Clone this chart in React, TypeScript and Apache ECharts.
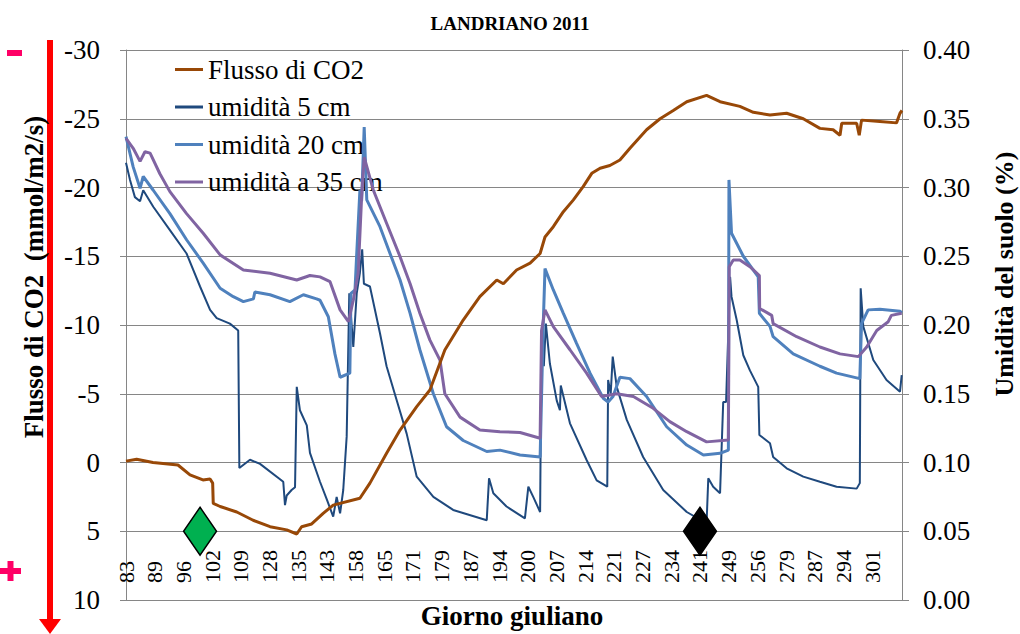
import React, { useEffect, useRef } from 'react';
import * as echarts from 'echarts';

// Tick labels of the category-like day axis (Julian day), one per unit of x
const dayLabels = ['83', '89', '96', '102', '109', '128', '135', '143', '158', '165', '171', '179', '187', '194', '200', '207', '214', '221', '227', '234', '241', '249', '256', '279', '287', '294', '301'];

const seriesNames = ['Flusso di CO2', 'umidità 5 cm', 'umidità 20 cm', 'umidità a 35 cm'];

// [x position in label units, CO2 flux (mmol/m2/s)]
const fluxCO2 = [
  [0.0, -0.1], [0.37, -0.23], [0.94, 0.0], [1.81, 0.18], [2.23, 0.9], [2.68, 1.27], [2.93, 1.2], [3.02, 1.5],
  [3.04, 2.97], [3.28, 3.2], [3.86, 3.6], [4.43, 4.2], [5.02, 4.67], [5.6, 4.9], [5.95, 5.2], [6.12, 4.67],
  [6.47, 4.47], [6.87, 3.7], [7.22, 3.1], [8.15, 2.6], [8.5, 1.5], [9.08, -0.67], [9.55, -2.36], [10.13, -4.06],
  [10.59, -5.27], [11.11, -8.18], [11.75, -10.36], [12.33, -12.06], [12.92, -13.27], [13.15, -13.0], [13.61, -14.0],
  [14.08, -14.5], [14.43, -15.2], [14.6, -16.4], [14.89, -17.15], [15.24, -18.24], [15.59, -19.1], [15.93, -20.06],
  [16.23, -21.03], [16.52, -21.4], [16.86, -21.6], [17.21, -22.0], [17.56, -22.85], [18.14, -24.2], [18.61, -25.0],
  [19.07, -25.6], [19.54, -26.24], [20.23, -26.7], [20.7, -26.24], [21.39, -25.9], [21.86, -25.47], [22.44, -25.27],
  [23.02, -25.4], [23.6, -25.0], [24.18, -24.3], [24.64, -24.2], [24.88, -23.8], [24.94, -24.67], [25.46, -24.67],
  [25.55, -23.8], [25.63, -24.9], [26.27, -24.8], [26.85, -24.7], [26.97, -25.4], [27.04, -25.6],
];

// [x, soil moisture] at 5 cm
const moisture5 = [
  [0.0, 0.318], [0.14, 0.3055], [0.31, 0.293], [0.49, 0.29], [0.6, 0.298], [0.95, 0.286], [1.53, 0.269], [2.11, 0.252],
  [2.58, 0.228], [2.93, 0.211], [3.16, 0.205], [3.62, 0.201], [3.91, 0.196], [3.95, 0.096], [4.32, 0.102], [4.67, 0.099],
  [5.48, 0.086], [5.54, 0.069], [5.6, 0.076], [5.77, 0.08], [5.89, 0.082], [5.95, 0.155], [6.06, 0.138], [6.3, 0.127],
  [6.41, 0.107], [6.76, 0.086], [7.0, 0.073], [7.22, 0.0606], [7.34, 0.075], [7.46, 0.063], [7.57, 0.08], [7.69, 0.119],
  [7.78, 0.223], [7.92, 0.184], [8.04, 0.223], [8.15, 0.238], [8.23, 0.255], [8.29, 0.23], [8.5, 0.228], [8.85, 0.194],
  [9.08, 0.17], [9.43, 0.1455], [9.78, 0.121], [10.13, 0.0897], [10.71, 0.075], [11.4, 0.0655], [12.57, 0.058],
  [12.65, 0.0885], [12.8, 0.0776], [13.26, 0.068], [13.9, 0.0594], [14.02, 0.0824], [14.19, 0.075], [14.43, 0.064],
  [14.48, 0.196], [14.56, 0.17], [14.63, 0.201], [14.77, 0.172], [15.01, 0.145], [15.12, 0.138], [15.15, 0.156],
  [15.47, 0.1285], [16.05, 0.1018], [16.4, 0.087], [16.77, 0.0824], [16.8, 0.16], [16.89, 0.15], [16.96, 0.177],
  [17.1, 0.155], [17.45, 0.131], [18.02, 0.104], [18.72, 0.08], [19.54, 0.064], [20.23, 0.0558], [20.29, 0.0885],
  [20.46, 0.0824], [20.7, 0.0776], [20.81, 0.144], [20.91, 0.144], [21.05, 0.235], [21.1, 0.2206], [21.28, 0.2036],
  [21.51, 0.178], [21.74, 0.167], [22.03, 0.155], [22.07, 0.12], [22.44, 0.114], [22.55, 0.104], [23.02, 0.0958],
  [23.6, 0.0897], [24.18, 0.086], [24.76, 0.0824], [25.46, 0.081], [25.57, 0.085], [25.6, 0.2267], [25.69, 0.199],
  [26.04, 0.1745], [26.5, 0.16], [26.97, 0.1515], [27.03, 0.1636],
];

// [x, soil moisture] at 20 cm
const moisture20 = [
  [0.0, 0.337], [0.25, 0.315], [0.49, 0.2994], [0.6, 0.308], [0.95, 0.298], [1.53, 0.281], [2.11, 0.262], [2.69, 0.245],
  [3.28, 0.2267], [3.74, 0.2206], [4.09, 0.217], [4.44, 0.219], [4.49, 0.224], [5.02, 0.222], [5.71, 0.217], [6.18, 0.222],
  [6.64, 0.219], [6.76, 0.218], [7.05, 0.206], [7.11, 0.199], [7.28, 0.179], [7.46, 0.162], [7.8, 0.165], [7.84, 0.223],
  [7.98, 0.2255], [8.04, 0.252], [8.15, 0.298], [8.21, 0.29], [8.3, 0.344], [8.39, 0.291], [8.85, 0.2715], [9.2, 0.252],
  [9.55, 0.2327], [9.9, 0.2085], [10.24, 0.182], [10.71, 0.15], [11.17, 0.126], [11.75, 0.116], [12.57, 0.108],
  [13.03, 0.109], [13.73, 0.1055], [14.43, 0.104], [14.54, 0.201], [14.6, 0.241], [14.89, 0.2255], [15.24, 0.2085],
  [15.7, 0.1867], [16.17, 0.165], [16.63, 0.1467], [16.8, 0.144], [16.97, 0.148], [17.21, 0.162], [17.56, 0.161],
  [18.14, 0.148], [18.84, 0.126], [19.54, 0.1127], [20.12, 0.1055], [20.7, 0.1067], [20.99, 0.109], [21.01, 0.3055],
  [21.1, 0.2667], [21.51, 0.25], [22.03, 0.235], [22.07, 0.2085], [22.44, 0.199], [22.55, 0.1915], [23.25, 0.179],
  [24.18, 0.17], [24.76, 0.165], [25.57, 0.161], [25.63, 0.201], [25.86, 0.211], [26.27, 0.2114], [26.97, 0.21],
  [27.04, 0.209],
];

// [x, soil moisture] at 35 cm
const moisture35 = [
  [0.0, 0.3358], [0.25, 0.3285], [0.49, 0.319], [0.66, 0.326], [0.84, 0.325], [1.18, 0.31], [1.53, 0.297], [2.11, 0.281],
  [2.69, 0.2667], [3.28, 0.251], [4.09, 0.24], [5.02, 0.2376], [5.95, 0.2327], [6.41, 0.236], [6.76, 0.235], [7.11, 0.2315],
  [7.46, 0.211], [7.75, 0.2025], [7.92, 0.218], [8.09, 0.2376], [8.21, 0.293], [8.3, 0.322], [8.62, 0.298], [9.08, 0.274],
  [9.55, 0.2497], [9.9, 0.23], [10.24, 0.2085], [10.59, 0.189], [10.94, 0.1745], [11.11, 0.15], [11.64, 0.133],
  [12.33, 0.1236], [13.03, 0.1224], [13.73, 0.1218], [14.43, 0.1176], [14.48, 0.196], [14.6, 0.211], [14.89, 0.1988],
  [15.47, 0.182], [16.05, 0.165], [16.57, 0.148], [17.1, 0.15], [17.68, 0.148], [18.37, 0.1394], [18.95, 0.1297],
  [19.54, 0.1224], [20.23, 0.115], [20.99, 0.1164], [21.02, 0.2424], [21.16, 0.2473], [21.39, 0.2473], [21.74, 0.2424],
  [22.07, 0.236], [22.08, 0.212], [22.5, 0.207], [22.55, 0.201], [23.37, 0.1915], [24.18, 0.184], [24.88, 0.179],
  [25.52, 0.177], [25.81, 0.184], [26.16, 0.196], [26.56, 0.2024], [26.67, 0.207], [27.03, 0.2085],
];

// Event markers (x position, flux-axis value)
const eventMarkers = [
  { value: [2.58, 5], color: '#00B050' },
  { value: [20.0, 5], color: '#000000' },
];

const FONT = "'Liberation Serif', 'Times New Roman', serif";
const GRID_COLOR = '#868686';

export default function App() {
  const ref = useRef<HTMLDivElement>(null);

  useEffect(() => {
    if (!ref.current) return;
    const chart = echarts.init(ref.current, undefined, { renderer: 'svg' });
    const option: any = {
      animation: false,
      backgroundColor: '#ffffff',
      textStyle: { fontFamily: FONT },
      title: {
        text: 'LANDRIANO 2011',
        left: 'center',
        top: 9,
        textStyle: { fontFamily: FONT, fontWeight: 'bold', fontSize: 19, color: '#000' },
      },
      legend: {
        orient: 'vertical',
        left: 175,
        top: 56,
        padding: 0,
        itemWidth: 28,
        itemHeight: 3,
        itemGap: 10.5,
        icon: 'rect',
        data: seriesNames,
        textStyle: { fontFamily: FONT, fontSize: 27, lineHeight: 27, color: '#000' },
      },
      grid: { left: 126, right: 118, top: 50, bottom: 34 },
      xAxis: {
        type: 'value',
        min: 0,
        max: 27.04,
        interval: 1,
        axisLine: { show: true, onZero: false, lineStyle: { color: GRID_COLOR, width: 1 } },
        axisTick: { show: false },
        splitLine: { show: false },
        axisLabel: {
          inside: true,
          rotate: 90,
          margin: 17,
          fontSize: 22,
          fontFamily: FONT,
          color: '#000',
          showMaxLabel: false,
          formatter: (v: number) => {
            const i = Math.round(v);
            return Math.abs(v - i) < 0.001 && dayLabels[i] !== undefined ? dayLabels[i] : '';
          },
        },
      },
      yAxis: [
        {
          type: 'value',
          inverse: true,
          min: -30,
          max: 10,
          interval: 5,
          position: 'left',
          axisLine: { show: true, onZero: false, lineStyle: { color: GRID_COLOR } },
          axisTick: { show: true, length: 6, lineStyle: { color: GRID_COLOR } },
          splitLine: { show: true, lineStyle: { color: GRID_COLOR, width: 1 } },
          axisLabel: { margin: 26, fontSize: 27, fontFamily: FONT, color: '#000' },
        },
        {
          type: 'value',
          min: 0,
          max: 0.4,
          interval: 0.05,
          position: 'right',
          axisLine: { show: true, onZero: false, lineStyle: { color: GRID_COLOR } },
          axisTick: { show: true, length: 7, lineStyle: { color: GRID_COLOR } },
          splitLine: { show: false },
          axisLabel: {
            margin: 21,
            fontSize: 27,
            fontFamily: FONT,
            color: '#000',
            formatter: (v: number) => v.toFixed(2),
          },
        },
      ],
      series: [
        {
          name: seriesNames[1], type: 'line', yAxisIndex: 1, data: moisture5, symbol: 'none', showSymbol: false,
          color: '#1F497D', lineStyle: { width: 2, color: '#1F497D' }, z: 3,
        },
        {
          name: seriesNames[2], type: 'line', yAxisIndex: 1, data: moisture20, symbol: 'none', showSymbol: false,
          color: '#4F81BD', lineStyle: { width: 3, color: '#4F81BD' }, z: 4,
        },
        {
          name: seriesNames[3], type: 'line', yAxisIndex: 1, data: moisture35, symbol: 'none', showSymbol: false,
          color: '#8064A2', lineStyle: { width: 3, color: '#8064A2' }, z: 5,
        },
        {
          name: seriesNames[0], type: 'line', yAxisIndex: 0, data: fluxCO2, symbol: 'none', showSymbol: false,
          color: '#984807', lineStyle: { width: 3, color: '#984807' }, z: 6,
        },
        {
          name: 'eventi', type: 'scatter', yAxisIndex: 0, symbol: 'diamond', symbolSize: [33, 48], z: 10,
          data: eventMarkers.map((m) => ({
            value: m.value,
            itemStyle: { color: m.color, borderColor: '#000', borderWidth: 1.5, opacity: 1 },
          })),
        },
      ],
      graphic: [
        { type: 'line', shape: { x1: 50, y1: 40, x2: 50, y2: 621 }, style: { stroke: '#FF0000', lineWidth: 6 } },
        { type: 'polygon', shape: { points: [[39, 619], [61, 619], [50, 634]] }, style: { fill: '#FF0000' } },
        { type: 'rect', shape: { x: 7, y: 50, width: 15, height: 6 }, style: { fill: '#FF0066' } },
        { type: 'rect', shape: { x: 0, y: 568, width: 21, height: 6 }, style: { fill: '#FF0066' } },
        { type: 'rect', shape: { x: 7.5, y: 561, width: 6, height: 20 }, style: { fill: '#FF0066' } },
        {
          type: 'text', x: 34, y: 277, rotation: Math.PI / 2,
          style: { text: 'Flusso di CO2  (mmol/m2/s)', fontFamily: FONT, fontWeight: 'bold', fontSize: 27, fill: '#000', align: 'center', verticalAlign: 'middle' },
        },
        {
          type: 'text', x: 1004, y: 274, rotation: Math.PI / 2,
          style: { text: 'Umidità del suolo (%)', fontFamily: FONT, fontWeight: 'bold', fontSize: 26, fill: '#000', align: 'center', verticalAlign: 'middle' },
        },
        {
          type: 'text', x: 512, y: 616,
          style: { text: 'Giorno giuliano', fontFamily: FONT, fontWeight: 'bold', fontSize: 27, fill: '#000', align: 'center', verticalAlign: 'middle' },
        },
      ],
    };
    chart.setOption(option);
    return () => chart.dispose();
  }, []);

  return (
    <div
      ref={ref}
      style={{ position: 'fixed', left: 0, top: 0, width: 1020, height: 634, background: '#fff' }}
    />
  );
}
